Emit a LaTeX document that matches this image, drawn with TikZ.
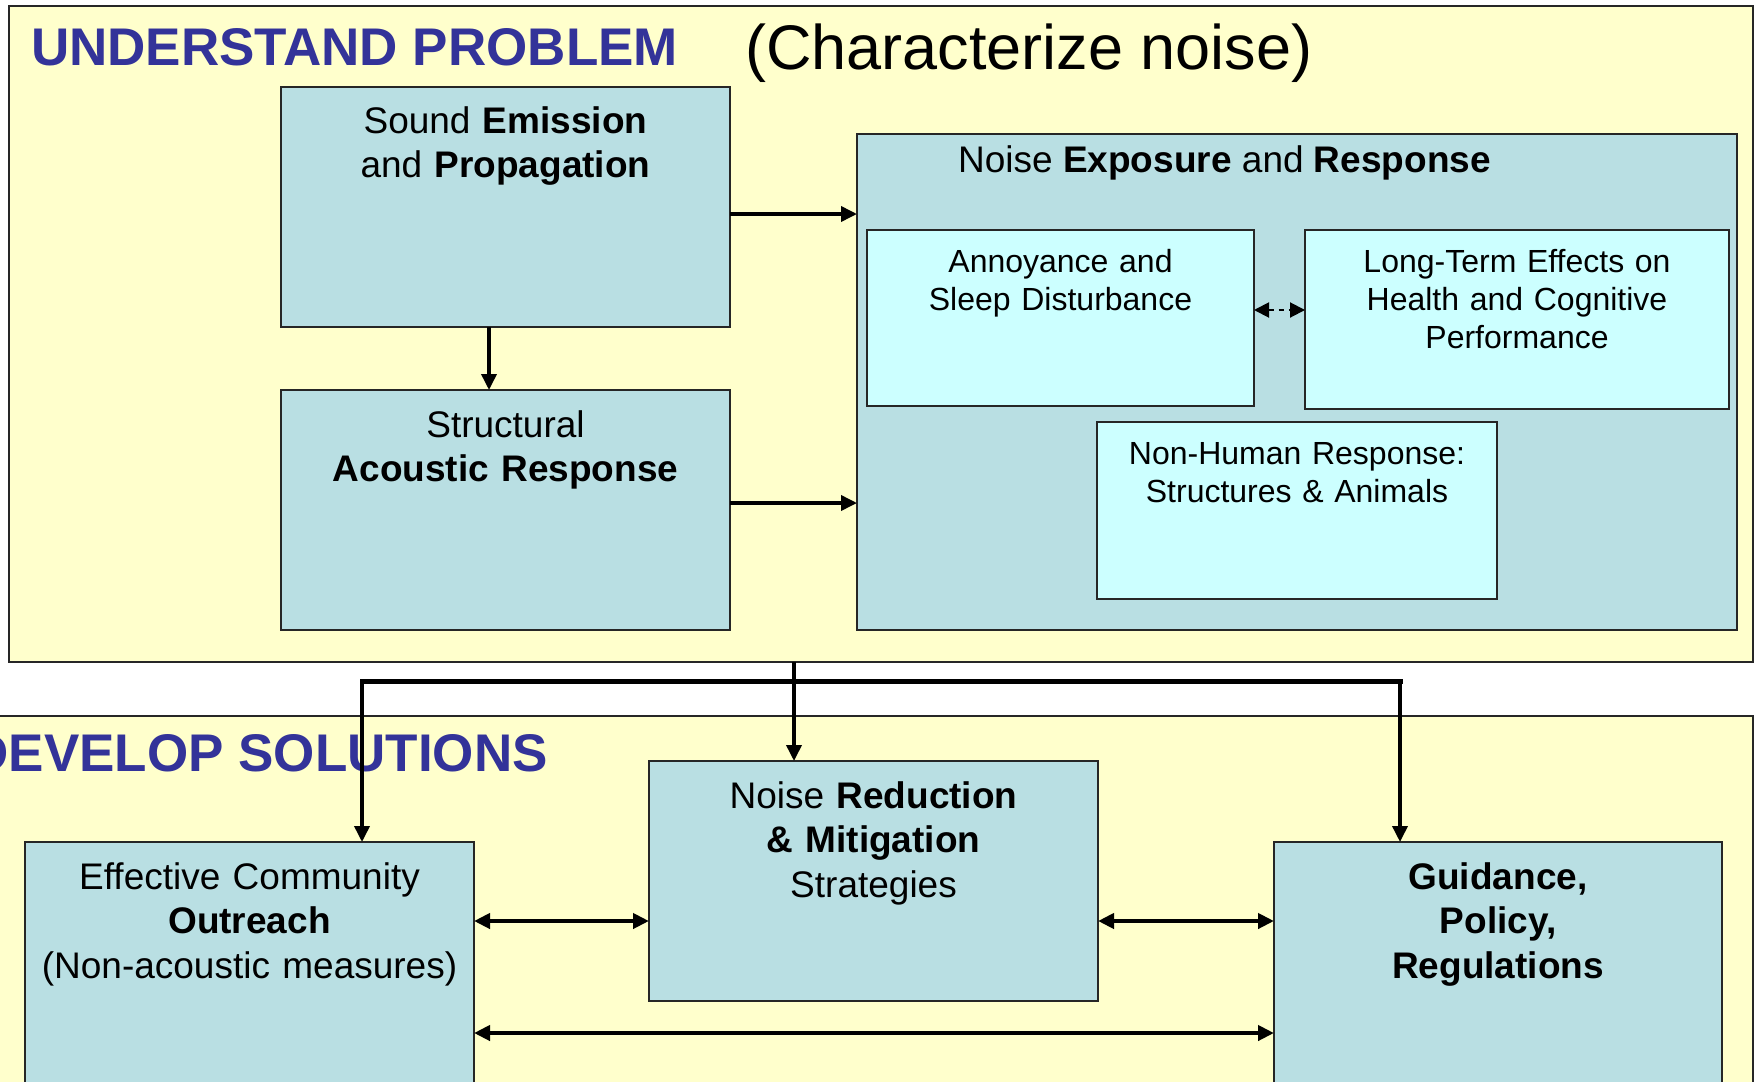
\documentclass[tikz,border=0pt]{standalone}
\usepackage{fontspec}
\setmainfont{Liberation Sans}
\usetikzlibrary{arrows.meta,positioning}
\definecolor{panelfill}{HTML}{FFFFCC}
\definecolor{boxfill}{HTML}{B9DFE3}
\definecolor{subfill}{HTML}{CCFFFF}
\definecolor{headblue}{HTML}{333399}

\tikzset{
  panel/.style={draw=black!85,line width=1.8pt,fill=panelfill,anchor=north west,inner sep=0pt,outer sep=0pt},
  box/.style={panel,fill=boxfill},
  subbox/.style={panel,fill=subfill},
  txt/.style={inner sep=0pt,font=\fontsize{37}{44.5}\selectfont},
  lbl/.style={txt,anchor=base,align=center,text width=440pt},
  sublbl/.style={lbl,font=\fontsize{32}{38}\selectfont,text width=380pt},
  head/.style={anchor=base west,inner sep=0pt,text=headblue,font=\fontsize{53}{60}\selectfont\bfseries},
  arr/.style={line width=3.6pt,-{Triangle[length=16pt,width=15pt]}},
  darr/.style={line width=4pt,{Triangle[length=16pt,width=15pt]}-{Triangle[length=16pt,width=15pt]}},
  dtip/.style={line width=2pt,dash pattern=on 5pt off 5pt,{Triangle[length=15pt,width=15pt]}-{Triangle[length=15pt,width=15pt]}}
}

\begin{document}
\begin{tikzpicture}[x=1pt,y=-1pt]
  \useasboundingbox (0,0) rectangle (1755,1081);
  \clip (0,0) rectangle (1755,1081);

  % understand problem
  \node[panel,minimum width=1744pt,minimum height=656pt] (understand) at (9,6) {};
  \node[head] (understandT) at (31,66) {UNDERSTAND PROBLEM};
  \node[txt,anchor=base west,font=\fontsize{63}{70}\selectfont] (characT) at (745,70) {(Characterize noise)};

  \node[box,minimum width=449pt,minimum height=240pt] (emis) at (281,87) {};
  \node[box,minimum width=449pt,minimum height=240pt] (struct) at (281,390) {};
  \node[box,minimum width=880pt,minimum height=496pt] (expo) at (857,134) {};
  \node[subbox,minimum width=387pt,minimum height=176pt] (annoy) at (867,230) {};
  \node[subbox,minimum width=424pt,minimum height=179pt] (longterm) at (1305,230) {};
  \node[subbox,minimum width=400pt,minimum height=177pt] (nonhuman) at (1097,422) {};

  \node[lbl] (emisT) at ([yshift=-46pt]emis.north) {Sound \textbf{Emission}\\and \textbf{Propagation}};
  \node[lbl] (structT) at ([yshift=-47pt]struct.north) {Structural\\\textbf{Acoustic Response}};
  \node[txt,anchor=base west] (expoT) at ([xshift=101pt,yshift=-38pt]expo.north west) {Noise \textbf{Exposure} and \textbf{Response}};
  \node[sublbl] (annoyT) at ([yshift=-42pt]annoy.north) {Annoyance and\\Sleep Disturbance};
  \node[sublbl] (longtermT) at ([yshift=-42pt]longterm.north) {Long-Term Effects on\\Health and Cognitive\\Performance};
  \node[sublbl] (nonhumanT) at ([yshift=-42pt]nonhuman.north) {Non-Human Response:\\Structures \& Animals};

  \draw[arr] (emis.east |- 0,214) -- (expo.west |- 0,214);
  \draw[arr] (struct.east |- 0,503) -- (expo.west |- 0,503);
  \draw[arr] (489,0 |- emis.south) -- (489,0 |- struct.north);
  \draw[dtip] (annoy.east |- 0,310) -- (longterm.west |- 0,310);

  % develop solutions
  \node[panel,minimum width=1800pt,minimum height=400pt] (develop) at (-47,716) {};
  \node[head,anchor=base east] (developT) at (548,771) {DEVELOP SOLUTIONS};

  \node[box,minimum width=449pt,minimum height=300pt] (outreach) at (25,842) {};
  \node[box,minimum width=449pt,minimum height=240pt] (reduct) at (649,761) {};
  \node[box,minimum width=448pt,minimum height=300pt] (guide) at (1274,842) {};

  \node[lbl] (outreachT) at ([yshift=-47pt]outreach.north) {Effective Community\\\textbf{Outreach}\\(Non-acoustic measures)};
  \node[lbl] (reductT) at ([yshift=-47pt]reduct.north) {Noise \textbf{Reduction}\\\textbf{\& Mitigation}\\Strategies};
  \node[lbl] (guideT) at ([yshift=-47pt]guide.north) {\textbf{Guidance,}\\\textbf{Policy,}\\\textbf{Regulations}};

  \draw[darr] (outreach.east |- 0,921) -- (reduct.west |- 0,921);
  \draw[darr] (reduct.east |- 0,921) -- (guide.west |- 0,921);
  \draw[darr] (outreach.east |- 0,1033) -- (guide.west |- 0,1033);

  % link between the panels
  \coordinate (hubL) at (362,681);
  \coordinate (hubR) at (1400,681);
  \draw[line width=5pt,line cap=rect] (hubL) -- (hubR);
  \draw[arr] (794,0 |- understand.south) -- (794,0 |- reduct.north);
  \draw[arr] (hubL) -- (hubL |- outreach.north);
  \draw[arr] (hubR) -- (hubR |- guide.north);
\end{tikzpicture}
\end{document}
